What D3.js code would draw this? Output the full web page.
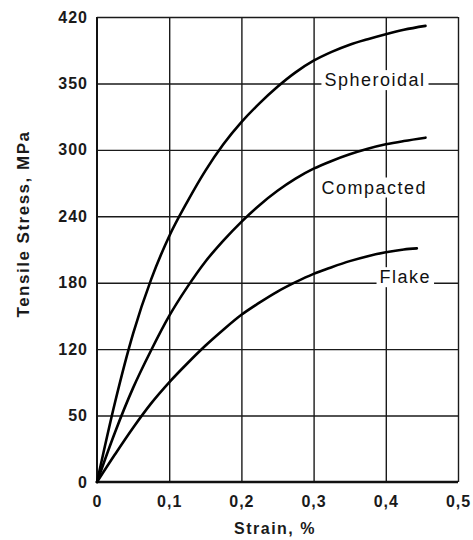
<!DOCTYPE html>
<html>
<head>
<meta charset="utf-8">
<script src="https://d3js.org/d3.v7.min.js"></script>
<style>
  body { margin: 0; background: #fff; }
  .grid line { stroke: #1a1a1a; stroke-width: 1.4; }
  .grid .domain { stroke: none; }
  .tick text { font-family: "Liberation Sans", Arial, sans-serif; font-weight: bold; font-size: 16px; fill: #1a1a1a; letter-spacing: 1px; }
</style>
</head>
<body>
<svg id="chart" width="473" height="540"></svg>
<script>
// strain (%) / tensile stress readings for each iron type
const strain = [0, 0.025, 0.05, 0.075, 0.1, 0.125, 0.15, 0.175, 0.2, 0.225, 0.25, 0.275, 0.3, 0.325, 0.35, 0.375, 0.4, 0.425];
const spheroidal = [0, 72, 134, 183, 222, 253, 281, 305, 325, 342, 357, 370, 380.5, 388.5, 395, 400, 404.5, 408.5];
const compacted  = [0, 45, 85, 119, 150, 176, 199, 218, 235, 250, 263, 274, 283, 290, 296, 301, 305, 308];
const flake      = [0, 25, 49, 71, 90, 107, 123, 137.5, 151, 162, 172, 180.5, 188, 194, 199.5, 204, 207.5, 210];
// last reading of each curve
const endStrain = [0.455, 0.455, 0.443];
const endStress = [412, 311, 211];

const seriesNames = ['Spheroidal', 'Compacted', 'Flake'];
// label anchor points in data units (strain, stress)
const labelAt = [[0.385, 363], [0.384, 266], [0.427, 185]];

const xTicks = [0, 0.1, 0.2, 0.3, 0.4, 0.5];
const xTickLabels = ['0', '0,1', '0,2', '0,3', '0,4', '0,5'];
const yTicks = [0, 60, 120, 180, 240, 300, 360, 420];
const yTickLabels = ['0', '50', '120', '180', '240', '300', '350', '420'];

const svg = d3.select('svg#chart');
const x = d3.scaleLinear().domain([0, 0.5]).range([97, 458]);
const y = d3.scaleLinear().domain([0, 420]).range([482, 17]);

// gridlines
svg.append('g')
    .attr('class', 'grid')
    .attr('transform', `translate(0,${y(0)})`)
    .call(d3.axisBottom(x).tickValues(xTicks.slice(1)).tickSize(-(y(0) - y(420))).tickFormat(''));
svg.append('g')
    .attr('class', 'grid')
    .attr('transform', `translate(${x(0)},0)`)
    .call(d3.axisLeft(y).tickValues(yTicks.slice(1)).tickSize(-(x(0.5) - x(0))).tickFormat(''));

// main axes (thicker)
svg.append('line').attr('x1', x(0)).attr('x2', x(0)).attr('y1', y(420)).attr('y2', y(0))
    .attr('stroke', '#111').attr('stroke-width', 2);
svg.append('line').attr('x1', x(0)).attr('x2', x(0.5)).attr('y1', y(0)).attr('y2', y(0))
    .attr('stroke', '#111').attr('stroke-width', 2.4);

// tick labels
const xAxis = svg.append('g')
    .attr('transform', `translate(0,${y(0)})`)
    .call(d3.axisBottom(x).tickValues(xTicks).tickSize(0).tickPadding(14)
        .tickFormat((d, i) => xTickLabels[i]));
xAxis.select('.domain').remove();

const yAxis = svg.append('g')
    .attr('transform', `translate(${x(0)},0)`)
    .call(d3.axisLeft(y).tickValues(yTicks).tickSize(0).tickPadding(9)
        .tickFormat((d, i) => yTickLabels[i]));
yAxis.select('.domain').remove();

// curves
const line = d3.line()
    .x(d => x(d[0]))
    .y(d => y(d[1]))
    .curve(d3.curveMonotoneX);

[spheroidal, compacted, flake].forEach((s, k) => {
    const pts = strain.map((v, i) => [v, s[i]]).filter(p => p[0] < endStrain[k]);
    pts.push([endStrain[k], endStress[k]]);
    svg.append('path')
        .datum(pts)
        .attr('d', line)
        .attr('fill', 'none')
        .attr('stroke', '#000')
        .attr('stroke-width', 2.6)
        .attr('stroke-linecap', 'round');
});

// curve labels with white backing
seriesNames.forEach((name, i) => {
    const g = svg.append('g');
    const t = g.append('text')
        .attr('x', x(labelAt[i][0]))
        .attr('y', y(labelAt[i][1]))
        .attr('text-anchor', 'middle')
        .attr('dominant-baseline', 'central')
        .style('font-family', '"Liberation Sans", Arial, sans-serif')
        .style('font-size', '18px')
        .style('letter-spacing', '1.5px')
        .attr('fill', '#111')
        .text(name);
    const bb = t.node().getBBox();
    g.insert('rect', 'text')
        .attr('x', bb.x - 3).attr('y', bb.y)
        .attr('width', bb.width + 6).attr('height', bb.height)
        .attr('fill', '#fff');
});

// axis titles
svg.append('text')
    .attr('x', 275).attr('y', 528)
    .attr('text-anchor', 'middle')
    .attr('dominant-baseline', 'central')
    .style('font-family', '"Liberation Sans", Arial, sans-serif')
    .style('font-weight', 'bold')
    .style('font-size', '16px')
    .style('letter-spacing', '1.5px')
    .attr('fill', '#1a1a1a')
    .text('Strain, %');

svg.append('text')
    .attr('transform', 'translate(23,224) rotate(-90)')
    .attr('text-anchor', 'middle')
    .attr('dominant-baseline', 'central')
    .style('font-family', '"Liberation Sans", Arial, sans-serif')
    .style('font-weight', 'bold')
    .style('font-size', '17px')
    .style('letter-spacing', '1.5px')
    .attr('fill', '#1a1a1a')
    .text('Tensile Stress, MPa');
</script>
</body>
</html>
